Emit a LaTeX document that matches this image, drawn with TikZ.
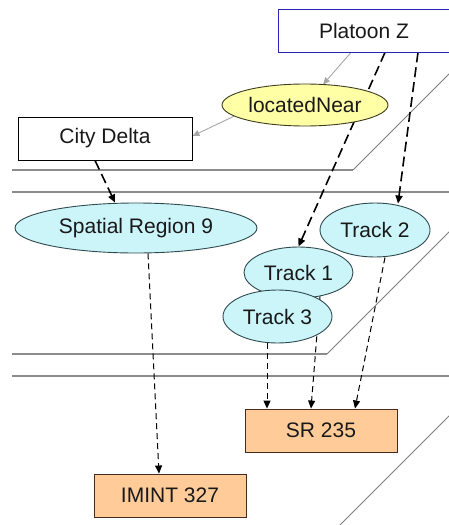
\documentclass[tikz,border=0pt]{standalone}
\usepackage{fontspec}
\setmainfont{Liberation Sans}
\usetikzlibrary{arrows.meta,shapes.geometric}
\pgfdeclarelayer{bg}
\pgfsetlayers{bg,main}
\definecolor{cyanfill}{HTML}{CCF5FA}
\definecolor{cyanline}{HTML}{2E4A4E}
\definecolor{yellowfill}{HTML}{FFFFA6}
\definecolor{yellowline}{HTML}{3C3C1E}
\definecolor{peach}{HTML}{FFCC99}
\definecolor{peachline}{HTML}{4A2A1E}
\definecolor{boxblue}{HTML}{2626B4}
\definecolor{planegray}{HTML}{8C8C8C}
\definecolor{linkgray}{HTML}{A6A6A6}
\tikzset{
  lab/.style={font=\fontsize{21}{25}\selectfont, text=black!90, inner sep=0pt},
  rectbox/.style={lab, draw, rectangle, line width=0.9pt},
  ellnode/.style={lab, draw, ellipse, line width=0.9pt},
  track/.style={ellnode, fill=cyanfill, draw=cyanline},
  product/.style={rectbox, fill=peach, draw=peachline, minimum width=152pt, minimum height=43pt},
  planeedge/.style={draw=planegray, line width=1.6pt},
  planeslant/.style={draw=planegray!90!black, line width=0.8pt},
  heavylink/.style={line width=1.6pt, dash pattern=on 10pt off 5pt, -{Triangle[length=8pt,width=7pt]}},
  lightlink/.style={line width=1pt, dash pattern=on 6pt off 4pt, -{Triangle[length=8pt,width=7pt]}},
  relation/.style={draw=linkgray, line width=0.9pt, -{Triangle[length=7pt,width=6pt]}}
}
\begin{document}
\begin{tikzpicture}[x=1pt,y=-1pt]
\useasboundingbox (0,0) rectangle (448,525);

% entities and reports
\node[rectbox, draw=boxblue, fill=white, minimum width=172pt, minimum height=43pt] (pz) at (364,30.5) {Platoon Z};
\node[ellnode, fill=yellowfill, draw=yellowline, minimum width=166pt, minimum height=42pt] (ln) at (305,105) {locatedNear};
\node[rectbox, fill=white, minimum width=174pt, minimum height=43pt] (cd) at (105,138.5) {City Delta};
\node[track, minimum width=242pt, minimum height=50pt] (sr9) at (136,228) {Spatial Region 9};
\node[track, minimum width=110pt, minimum height=54pt] (t2) at (375,230) {Track 2};
\node[track, minimum width=109pt, minimum height=51pt] (t1) at (298.5,272.5) {Track 1};
\node[track, minimum width=109pt, minimum height=53pt] (t3) at (277.5,316.5) {Track 3};
\node[product] (sr235) at (321,430.5) {SR 235};
\node[product] (imint) at (170,495.5) {IMINT 327};

\begin{pgfonlayer}{bg}
% layer planes
\draw[planeedge] (12,170) -- (353,170);
\draw[planeslant] (353,170) -- (452,71);
\draw[planeedge] (12,192) -- (452,192);
\draw[planeedge] (12,354) -- (327,354);
\draw[planeslant] (327,354) -- (452,229);
\draw[planeedge] (12,376) -- (452,376);
\draw[planeslant] (338,527) -- (452,413);

% relation links
\draw[relation] ([xshift=-13pt]pz.south) -- ([xshift=18pt,yshift=-1pt]ln.north);
\draw[relation] (ln.189) -- ([yshift=2.5pt]cd.east);

% links between layers
\draw[heavylink] ([xshift=21pt]pz.south) -- (t1.north);
\draw[heavylink] ([xshift=54pt]pz.south) -- ([xshift=23pt,yshift=-1pt]t2.north);
\draw[heavylink] ([xshift=-10pt]cd.south) -- ([xshift=-21pt]sr9.north);
\draw[lightlink] ([xshift=12pt]sr9.south) -- ([xshift=-11pt]imint.north);
\draw[lightlink] ([xshift=-10.5pt]t3.south) -- ([xshift=-54pt]sr235.north);
\draw[lightlink] ([xshift=21.5pt,yshift=2pt]t1.south) -- ([xshift=-10pt]sr235.north);
\draw[lightlink] ([xshift=10pt]t2.south) -- ([xshift=34pt]sr235.north);
\end{pgfonlayer}
\end{tikzpicture}
\end{document}
